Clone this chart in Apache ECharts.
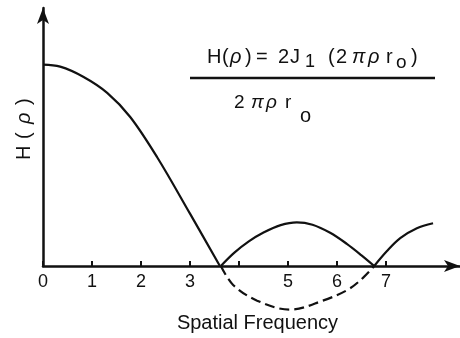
<!DOCTYPE html>
<html>
<head>
<meta charset="utf-8">
<script src="https://cdn.jsdelivr.net/npm/echarts@6/dist/echarts.min.js"></script>
<style>
  html, body { margin: 0; padding: 0; background: #fff; }
  #chart { width: 460px; height: 338px; }
</style>
</head>
<body>
<div id="chart"></div>
<script>
// |H(rho)| — central lobe and the rectified side lobes, plus the negative lobe (dashed)
const centralLobe = [[0, 1.0], [0.35, 0.99], [0.82, 0.94], [1.31, 0.86], [1.78, 0.74],
  [2.33, 0.54], [3.0, 0.26], [3.61, 0]];
const secondLobe = [[3.63, 0], [3.9, 0.065], [4.2, 0.122], [4.5, 0.166], [4.85, 0.203],
  [5.18, 0.217], [5.5, 0.205], [5.86, 0.165], [6.2, 0.11], [6.5, 0.053], [6.76, 0]];
const thirdLobe = [[6.76, 0], [7.02, 0.074], [7.29, 0.138], [7.63, 0.187], [7.96, 0.212]];
const negativeLobe = [[3.63, 0], [3.88, -0.094], [4.37, -0.172], [5.04, -0.217],
  [5.71, -0.172], [6.22, -0.118], [6.53, -0.059], [6.76, 0]];

const tickValues = [0, 1, 2, 3, 4, 5, 6, 7];
const labelValues = [0, 1, 2, 3, 5, 6, 7];

const INK = '#111';
const SANS = '"Liberation Sans", Arial, Helvetica, sans-serif';

function glyph(text, x, y, size, italic) {
  return {
    type: 'text', x: x, y: y, silent: true,
    style: {
      text: text, fill: INK, align: 'left', verticalAlign: 'middle',
      font: (italic ? 'italic ' : '') + size + 'px ' + SANS
    }
  };
}

// formula: H(rho) = 2 J1(2 pi rho r0) / (2 pi rho r0)
const numY = 57, subY = 62;
const formula = [
  glyph('H', 207, numY, 20), glyph('(', 222, numY, 20), glyph('ρ', 230, numY, 20, true),
  glyph(')', 245, numY, 20), glyph('=', 256, numY, 20), glyph('2', 278, numY, 20),
  glyph('J', 290, numY, 20), glyph('1', 305, subY, 18),
  glyph('(', 328, numY, 20), glyph('2', 336, numY, 20), glyph('π', 352, numY, 20, true),
  glyph('ρ', 368, numY, 20, true), glyph('r', 386, numY, 20), glyph('o', 396, subY + 1, 19),
  glyph(')', 411, numY, 20),
  glyph('2', 234, 103, 19), glyph('π', 251, 103, 19, true), glyph('ρ', 266, 103, 19, true),
  glyph('r', 285, 103, 19), glyph('o', 300, 116, 20),
  {
    type: 'line', silent: true,
    shape: { x1: 190, y1: 78, x2: 435, y2: 78 },
    style: { stroke: INK, lineWidth: 2.5 }
  },
  {
    type: 'group', x: 24, y: 160, rotation: Math.PI / 2, silent: true,
    children: [
      glyph('H', 0, 0, 20), glyph('(', 21, 0, 20), glyph('ρ', 36, 0, 20, true), glyph(')', 55, 0, 20)
    ]
  }
];

function curve(data, dashed) {
  return {
    type: 'line', data: data, smooth: 0.35, symbol: 'none', clip: false,
    lineStyle: { color: INK, width: 2.2, type: dashed ? [10, 5] : 'solid' },
    z: 3
  };
}

const chart = echarts.init(document.getElementById('chart'), null, { renderer: 'canvas' });
chart.setOption({
  backgroundColor: '#fff',
  animation: false,
  grid: { left: 43, right: 0, top: 8, bottom: 70, containLabel: false },
  xAxis: {
    type: 'value', min: 0, max: 8.51,
    name: 'Spatial Frequency', nameLocation: 'middle', nameGap: 47,
    nameTextStyle: { color: INK, fontSize: 20, fontFamily: SANS, padding: [0, 0, 0, 12] },
    axisLine: { show: true, symbol: ['none', 'arrow'], symbolSize: [9, 16],
      lineStyle: { color: INK, width: 2.5 } },
    axisTick: { show: true, inside: true, length: 5, customValues: tickValues,
      lineStyle: { color: INK, width: 2 } },
    axisLabel: { color: INK, fontSize: 18, fontFamily: SANS, margin: 7, customValues: labelValues },
    splitLine: { show: false }
  },
  yAxis: {
    type: 'value', min: 0, max: 1.281,
    axisLine: { show: true, symbol: ['none', 'arrow'], symbolSize: [9, 16],
      lineStyle: { color: INK, width: 2.5 } },
    axisTick: { show: false },
    axisLabel: { show: false },
    splitLine: { show: false }
  },
  graphic: formula,
  series: [
    curve(centralLobe, false),
    curve(secondLobe, false),
    curve(thirdLobe, false),
    curve(negativeLobe, true)
  ]
});
</script>
</body>
</html>
